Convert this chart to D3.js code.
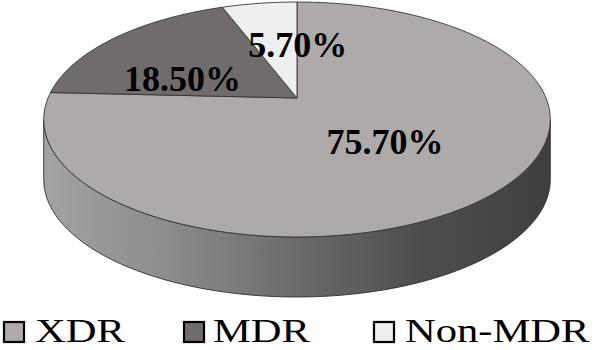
<!DOCTYPE html>
<html>
<head>
<meta charset="utf-8">
<script src="https://cdn.jsdelivr.net/npm/d3@7"></script>
<style>
  html, body { margin: 0; padding: 0; background: #ffffff; }
  svg { display: block; }
</style>
</head>
<body>
<svg id="chart" width="595" height="350"></svg>
<script>
// ---- data ----
const categories = ["XDR", "MDR", "Non-MDR"];
const values = [75.7, 18.5, 5.7];
const labelTexts = ["75.70%", "18.50%", "5.70%"];
const colors = ["#aeaaaa", "#706c6c", "#efefef"];

// ---- layout ----
const W = 595, H = 350;
const cx = 297, cy = 98;        // apex of the pie on screen
const R = 249;                  // radius (screen units, horizontal)
const sinTilt = 0.456;          // vertical squash
const persp = 0.183;            // perspective strength
const depth = 60;               // side wall height
const labelOffsets = [[-4, 0], [-19, 12.5], [21, -2]];
const legendX = [3, 183, 373];
const legendTextX = [35, 213, 405];

const svg = d3.select("#chart");

function proj(theta, k = 1, drop = 0) {
  const X = k * R * Math.sin(theta);
  const Y = k * R * Math.cos(theta);
  const f = 1 / (1 + persp * k * Math.cos(theta));
  return [cx + f * X, cy - f * Y * sinTilt + drop];
}

const arcs = d3.pie().sort(null).value(d => d).startAngle(0).endAngle(2 * Math.PI)(values);
const line = d3.line();

// gradient for the side
const defs = svg.append("defs");
const grad = defs.append("linearGradient").attr("id", "sideGrad")
  .attr("gradientUnits", "userSpaceOnUse")
  .attr("x1", cx - R).attr("x2", cx + R).attr("y1", 0).attr("y2", 0);
[["0%", "#a3a1a1"], ["25%", "#8c8a8a"], ["50%", "#6c6a6a"], ["75%", "#4f4d4e"], ["100%", "#403e3f"]]
  .forEach(([o, c]) => grad.append("stop").attr("offset", o).attr("stop-color", c));

// side wall (visible front part, between silhouette angles)
const a1 = Math.acos(-persp), a2 = 2 * Math.PI - a1;
const N = 120;
const topRim = d3.range(N + 1).map(i => proj(a1 + (a2 - a1) * i / N));
const botRim = d3.range(N + 1).map(i => proj(a2 - (a2 - a1) * i / N, 1, depth));
svg.append("path")
  .attr("d", line(topRim.concat(botRim)) + "Z")
  .attr("fill", "url(#sideGrad)")
  .attr("stroke", "#2e2e2e").attr("stroke-width", 0.9);

// top faces
svg.append("g").selectAll("path").data(arcs).join("path")
  .attr("d", d => {
    const n = Math.max(4, Math.ceil((d.endAngle - d.startAngle) * 60));
    const pts = [[cx, cy]].concat(d3.range(n + 1).map(i => proj(d.startAngle + (d.endAngle - d.startAngle) * i / n)));
    return line(pts) + "Z";
  })
  .attr("fill", (d, i) => colors[i])
  .attr("stroke", "#333333").attr("stroke-width", 0.9).attr("stroke-linejoin", "round");

// labels
svg.append("g").selectAll("text").data(arcs).join("text")
  .attr("x", (d, i) => proj((d.startAngle + d.endAngle) / 2, 0.5)[0] + labelOffsets[i][0])
  .attr("y", (d, i) => proj((d.startAngle + d.endAngle) / 2, 0.5)[1] + labelOffsets[i][1] + 12)
  .attr("text-anchor", "middle")
  .attr("font-family", "'Liberation Serif', 'Times New Roman', serif")
  .attr("font-weight", "bold").attr("font-size", 36)
  .attr("fill", "#000")
  .text((d, i) => labelTexts[i]);

// legend
const leg = svg.append("g");
categories.forEach((c, i) => {
  leg.append("rect").attr("x", legendX[i] + 1).attr("y", 322).attr("width", 20).attr("height", 20)
    .attr("fill", colors[i]).attr("stroke", "#000").attr("stroke-width", 2.2);
  leg.append("text")
    .attr("transform", `translate(${legendTextX[i]},342) scale(1.29,1)`)
    .attr("font-family", "'Liberation Serif', 'Times New Roman', serif")
    .attr("font-size", 33).attr("fill", "#000")
    .text(c);
});
</script>
</body>
</html>
